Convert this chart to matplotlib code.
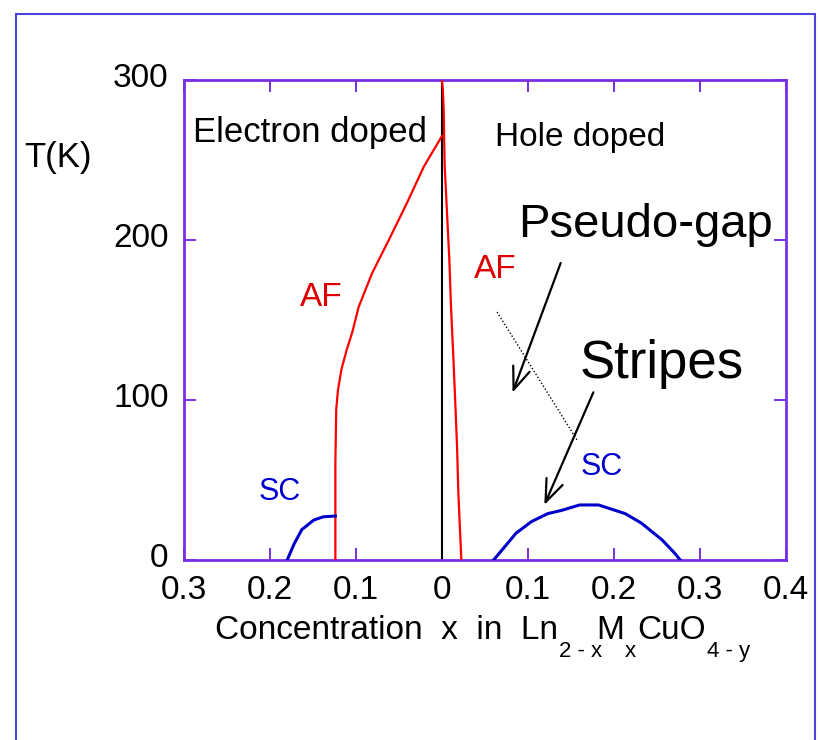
import numpy as np
import matplotlib
matplotlib.use("Agg")
import matplotlib.pyplot as plt
import matplotlib.transforms as mtransforms
from matplotlib.patches import Rectangle
from matplotlib.ticker import FuncFormatter

plt.rcParams['font.family'] = ['Liberation Sans', 'DejaVu Sans']

# AF boundary, electron doped side (x negative = electron doping)
af_e_x = [-0.124, -0.124, -0.123, -0.121, -0.117, -0.111, -0.104, -0.097,
          -0.0815, -0.060, -0.040, -0.021, 0.0]
af_e_T = [0, 60, 94, 106, 119, 131, 143, 158, 179, 202, 224, 246, 265]

# AF boundary, hole doped side
af_h_x = [0.0, 0.001, 0.002, 0.003, 0.006, 0.0085, 0.0105, 0.013, 0.015,
          0.0175, 0.019, 0.0215, 0.0225]
af_h_T = [300, 294, 281, 248, 215, 188, 158, 129, 104, 71, 42, 12, 0]

# SC domes
sc_e_x = [-0.180, -0.176, -0.172, -0.163, -0.149, -0.138, -0.124]
sc_e_T = [0, 5, 10, 19, 25, 27, 27.5]

sc_h_x = [0.060, 0.073, 0.086, 0.104, 0.123, 0.139, 0.160, 0.182, 0.213,
          0.232, 0.256, 0.271, 0.277]
sc_h_T = [0, 8.3, 16.7, 24, 29, 31, 34.4, 34.4, 29, 23, 12.5, 4, 0]

# dotted guide line (hole side)
dot_x = [0.064, 0.157]
dot_T = [155, 75]

xticks = [-0.3, -0.2, -0.1, 0, 0.1, 0.2, 0.3, 0.4]
yticks = [0, 100, 200, 300]

spine_col = '#7a2fe0'
frame_col = '#4a44dd'
red = '#ff0000'
blue = '#0000cc'

fig = plt.figure(figsize=(8.18, 7.4), dpi=100)
ax = fig.add_axes([184 / 818, 1 - 560 / 740, 602 / 818, 480 / 740])

ax.plot([0, 0], [0, 300], color='black', lw=1.5, zorder=2)
ax.plot(af_e_x, af_e_T, color=red, lw=1.6, zorder=3)
ax.plot(af_h_x, af_h_T, color=red, lw=1.6, zorder=3)
ax.plot(sc_e_x, sc_e_T, color=blue, lw=2.2, zorder=3)
ax.plot(sc_h_x, sc_h_T, color=blue, lw=2.2, zorder=3)
ax.plot(dot_x, dot_T, color='black', lw=1.0, ls=(0, (1, 1.5)))

ax.set_xlim(-0.3, 0.4)
ax.set_ylim(0, 300)
ax.set_xticks(xticks)
ax.set_yticks(yticks)
ax.xaxis.set_major_formatter(FuncFormatter(lambda v, p: '0' if abs(v) < 1e-9 else '%.1f' % abs(v)))
ax.yaxis.set_major_formatter(FuncFormatter(lambda v, p: '%d' % v))
ax.tick_params(direction='in', length=8.5, width=1.4, color=spine_col,
               top=True, right=True, labelsize=24)
ax.tick_params(axis='x', pad=11)
ax.tick_params(axis='y', pad=11)
for s in ax.spines.values():
    s.set_color(spine_col)
    s.set_linewidth(2)

# y tick labels sit a little above their ticks in the reference
up = mtransforms.ScaledTranslation(0, 0.05, fig.dpi_scale_trans)
for lbl in ax.get_yticklabels():
    lbl.set_transform(lbl.get_transform() + up)

# text labels
ax.text(-0.289, 261, 'Electron doped', fontsize=25, va='baseline')
ax.text(0.062, 259, 'Hole doped', fontsize=24, va='baseline')
ax.text(0.089, 202, 'Pseudo-gap', fontsize=34, va='baseline')
ax.text(0.160, 114, 'Stripes', fontsize=38, va='baseline')
ax.text(-0.165, 159, 'AF', fontsize=24, color='#dd0000', va='baseline')
ax.text(0.037, 176, 'AF', fontsize=24, color='#dd0000', va='baseline')
ax.text(-0.2135, 37.5, 'SC', fontsize=22, color=blue, va='baseline')
ax.text(0.161, 53, 'SC', fontsize=22, color=blue, va='baseline')

arrow = dict(arrowstyle='->,head_length=0.9,head_width=0.35', lw=1.6,
             color='black', shrinkA=0, shrinkB=0, mutation_scale=18)
ax.annotate('', xy=(0.082, 104.6), xytext=(0.138, 185.6), arrowprops=arrow)
ax.annotate('', xy=(0.119, 34.4), xytext=(0.176, 104.8), arrowprops=arrow)

fig.text(24 / 818, 1 - 167 / 740, 'T(K)', fontsize=25, va='baseline')

# x label with lowered subscripts: (text, size, drop in px, gap after)
fig.canvas.draw()
rend = fig.canvas.get_renderer()
pieces = [('Concentration  x  in  Ln', 24, 0, 1), ('2 - x', 16, -18, -6),
          ('M', 24, 0, 1), ('x', 16, -18, 1), ('CuO', 24, 0, 1),
          ('4 - y', 16, -18, 0)]
xpos = 215
base = 740 - 639
for txt, size, dy, gap in pieces:
    t = fig.text(xpos / 818, (base + dy) / 740, txt, fontsize=size, va='baseline')
    bb = t.get_window_extent(rend)
    xpos = bb.x1 + gap

# outer frame
fig.patches.append(Rectangle((16 / 818, -0.05), 799 / 818, 1 - 14 / 740 + 0.05,
                             transform=fig.transFigure, fill=False,
                             edgecolor=frame_col, lw=1.5))

fig.savefig('out.png', dpi=100)
